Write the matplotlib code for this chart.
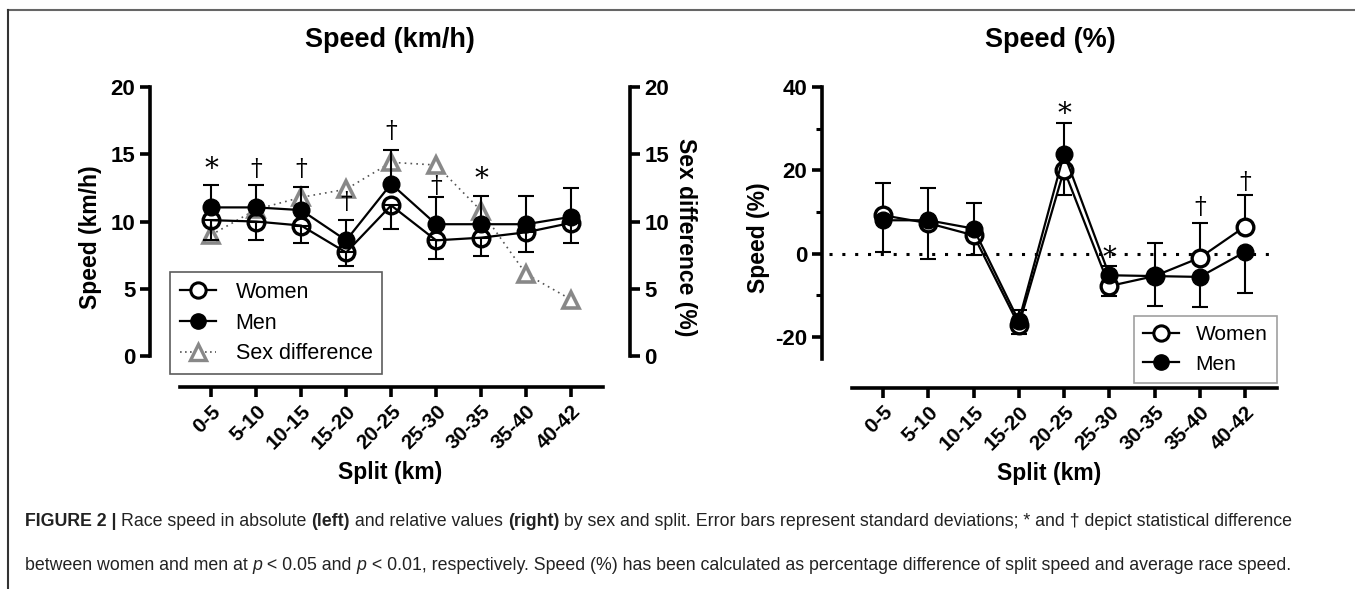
import numpy as np
import matplotlib
matplotlib.use('Agg')
from matplotlib import pyplot as plt
from matplotlib.lines import Line2D

plt.rcParams['font.family'] = ['Liberation Sans', 'DejaVu Sans']
plt.rcParams['axes.unicode_minus'] = False

splits = ['0-5', '5-10', '10-15', '15-20', '20-25', '25-30', '30-35', '35-40', '40-42']

# left panel: absolute speed (km/h)
women_kmh = [10.1, 10.0, 9.7, 7.7, 11.2, 8.6, 8.8, 9.2, 9.9]
men_kmh = [11.05, 11.05, 10.85, 8.6, 12.8, 9.8, 9.8, 9.8, 10.35]
women_kmh_sd = [1.5, 1.4, 1.3, 1.0, 1.75, 1.35, 1.35, 1.45, 1.5]   # drawn downward
men_kmh_sd = [1.7, 1.7, 1.75, 1.55, 2.55, 2.05, 2.1, 2.1, 2.15]    # drawn upward
sex_diff = [9.0, 10.9, 11.8, 12.4, 14.4, 14.2, 10.8, 6.1, 4.2]
sig_left = ['*', '†', '†', '†', '†', '†', '*', '', '']
sig_left_y = [13.9, 13.9, 13.9, 11.4, 16.7, 12.6, 13.1, 0, 0]

# right panel: relative speed (%)
women_pct = [9.2, 7.3, 4.4, -17.2, 20.1, -7.8, -5.4, -1.0, 6.5]
men_pct = [8.0, 8.0, 6.0, -16.2, 24.0, -5.2, -5.4, -5.6, 0.4]
women_pct_sd = [7.8, 8.5, 7.7, 3.6, 11.2, 4.8, 7.9, 8.4, 7.6]     # drawn upward
men_pct_sd = [7.6, 9.4, 6.4, 3.2, 10.0, 5.0, 7.2, 7.2, 9.8]       # drawn downward
sig_right = ['', '', '', '', '*', '*', '', '†', '†']
sig_right_y = [0, 0, 0, 0, 33.5, -1.2, 0, 11.0, 17.0]

x = np.arange(len(splits))
lw = 1.6
ms = 12
mew = 2.4

fig = plt.figure(figsize=(13.55, 5.89), dpi=100)

# frame lines (top and left) like the journal figure box
fig.add_artist(Line2D([8/1355, 1.0], [1-9.5/589, 1-9.5/589], color='#666666', lw=1.5))
fig.add_artist(Line2D([8/1355, 8/1355], [0, 1-9.5/589], color='#333333', lw=1.5))


def style_axis(ax, ybounds, xbounds):
    for s in ['top', 'right']:
        ax.spines[s].set_visible(False)
    ax.spines['left'].set_linewidth(2.6)
    ax.spines['bottom'].set_linewidth(2.6)
    ax.spines['left'].set_bounds(*ybounds)
    ax.spines['bottom'].set_bounds(*xbounds)
    ax.tick_params(axis='both', which='major', width=2.6, length=7, labelsize=16)
    ax.set_xticks(x)
    ax.set_xticklabels(splits, rotation=45, ha='right', rotation_mode='anchor',
                       fontweight='bold', fontsize=15)
    for t in ax.get_yticklabels():
        t.set_fontweight('bold')


# ---------------- left panel ----------------
ax1 = fig.add_axes([150/1355, 202/589, 480/1355, 300/589])
ax1.set_xlim(-1.36, 9.31)
ax1.set_ylim(-2.3, 20)
ax2 = ax1.twinx()
ax2.set_ylim(-2.3, 20)
ax2.set_zorder(0)
ax1.set_zorder(1)
ax1.patch.set_visible(False)

ax2.plot(x, sex_diff, ls=(0, (1, 2.5)), color='#555555', lw=1.2, marker='^',
         ms=12, mfc='white', mec='#888888', mew=2.6, zorder=3)

ax1.errorbar(x, men_kmh, yerr=[np.zeros(9), men_kmh_sd], fmt='none', ecolor='black',
             elinewidth=1.5, capsize=6, capthick=1.5, zorder=2)
ax1.errorbar(x, women_kmh, yerr=[women_kmh_sd, np.zeros(9)], fmt='none', ecolor='black',
             elinewidth=1.5, capsize=6, capthick=1.5, zorder=2)
ax1.plot(x, women_kmh, color='black', lw=lw, marker='o', ms=ms, mfc='none', mec='black', mew=mew, zorder=4)
ax1.plot(x, men_kmh, color='black', lw=lw, marker='o', ms=ms, mfc='black', mec='black', zorder=4)

for i, s in enumerate(sig_left):
    if s:
        ax1.text(i, sig_left_y[i], s, ha='center', va='center', fontsize=20 if s == '*' else 17,
                 family='DejaVu Serif', zorder=5)

style_axis(ax1, (0, 20), (-0.7, 8.7))
ax1.set_yticks([0, 5, 10, 15, 20])
for t in ax1.get_yticklabels():
    t.set_fontweight('bold')
for s in ['top', 'left', 'bottom']:
    ax2.spines[s].set_visible(False)
ax2.spines['right'].set_linewidth(2.6)
ax2.spines['right'].set_bounds(0, 20)
ax2.set_yticks([0, 5, 10, 15, 20])
ax2.tick_params(axis='y', width=2.6, length=7, labelsize=16)
for t in ax2.get_yticklabels():
    t.set_fontweight('bold')

ax1.set_ylabel('Speed (km/h)', fontsize=16.5, fontweight='bold', labelpad=6)
ax2.set_ylabel('Sex difference (%)', fontsize=16.5, fontweight='bold', rotation=-90, labelpad=20)
ax1.set_xlabel('Split (km)', fontsize=16.5, fontweight='bold', labelpad=6)
fig.text(390/1355, 1-40/589, 'Speed (km/h)', ha='center', va='center', fontsize=19.5, fontweight='bold')

h_w = Line2D([], [], color='black', lw=lw, marker='o', ms=11, mfc='white', mec='black', mew=2.2)
h_m = Line2D([], [], color='black', lw=lw, marker='o', ms=11, mfc='black', mec='black')
h_s = Line2D([], [], color='#555555', lw=1.2, ls=(0, (1, 2)), marker='^', ms=11, mfc='white', mec='#888888', mew=2.4)
leg1 = ax1.legend([h_w, h_m, h_s], ['Women', 'Men', 'Sex difference'], loc='lower left',
                  bbox_to_anchor=(20/480, 13/300), borderaxespad=0, fontsize=15.5,
                  frameon=True, fancybox=False, edgecolor='#333333', handlelength=1.7,
                  handletextpad=0.9, labelspacing=0.45, borderpad=0.45)
leg1.get_frame().set_linewidth(1.2)
leg1.set_zorder(6)

# ---------------- right panel ----------------
ax3 = fig.add_axes([822/1355, 201.3/589, 454.7/1355, 300.7/589])
ax3.set_xlim(-1.35, 8.7)
ax3.set_ylim(-32.2, 40)
ax3.plot([-1.2, 8.7], [0, 0], ls=(0, (1, 3.2)), color='black', lw=2.2, zorder=1)

ax3.errorbar(x, women_pct, yerr=[np.zeros(9), women_pct_sd], fmt='none', ecolor='black',
             elinewidth=1.5, capsize=6, capthick=1.5, zorder=2)
ax3.errorbar(x, men_pct, yerr=[men_pct_sd, np.zeros(9)], fmt='none', ecolor='black',
             elinewidth=1.5, capsize=6, capthick=1.5, zorder=2)
ax3.plot(x, women_pct, color='black', lw=lw, marker='o', ms=ms, mfc='white', mec='black', mew=mew, zorder=4)
ax3.plot(x, men_pct, color='black', lw=lw, marker='o', ms=ms, mfc='black', mec='black', zorder=5)

for i, s in enumerate(sig_right):
    if s:
        ax3.text(i, sig_right_y[i], s, ha='center', va='center', fontsize=20 if s == '*' else 17,
                 family='DejaVu Serif', zorder=6)

style_axis(ax3, (-25.2, 40), (-0.69, 8.7))
ax3.set_yticks([-20, 0, 20, 40])
ax3.set_yticks([-10, 10, 30], minor=True)
ax3.tick_params(axis='y', which='minor', width=2.2, length=4)
for t in ax3.get_yticklabels():
    t.set_fontweight('bold')
ax3.set_ylabel('Speed (%)', fontsize=16.5, fontweight='bold', labelpad=4)
ax3.set_xlabel('Split (km)', fontsize=16.5, fontweight='bold', labelpad=6)
fig.text(1050/1355, 1-40/589, 'Speed (%)', ha='center', va='center', fontsize=19.5, fontweight='bold')

leg2 = ax3.legend([h_w, h_m], ['Women', 'Men'], loc='lower right', bbox_to_anchor=(1.0, 4.7/300.7),
                  borderaxespad=0, fontsize=15, frameon=True, fancybox=False, edgecolor='#888888',
                  handlelength=1.7, handletextpad=0.8, labelspacing=0.5, borderpad=0.45)
leg2.get_frame().set_linewidth(1.2)
leg2.set_zorder(7)

# ---------------- caption ----------------
cap_font = ['Liberation Sans Narrow', 'Liberation Sans', 'DejaVu Sans']
line1 = [('FIGURE 2 | ', 'bold', 'normal'), ('Race speed in absolute ', 'normal', 'normal'),
         ('(left)', 'bold', 'normal'), (' and relative values ', 'normal', 'normal'),
         ('(right)', 'bold', 'normal'),
         (' by sex and split. Error bars represent standard deviations; * and \u2020 depict statistical difference',
          'normal', 'normal')]
line2 = [('between women and men at ', 'normal', 'normal'), ('p', 'normal', 'italic'),
         (' < 0.05 and ', 'normal', 'normal'), ('p', 'normal', 'italic'),
         (' < 0.01, respectively. Speed (%) has been calculated as percentage difference of split speed and average race speed.',
          'normal', 'normal')]

fig.canvas.draw()
renderer = fig.canvas.get_renderer()
for pieces, ypix in [(line1, 522), (line2, 565)]:
    xpix = 25
    for txt, wt, st in pieces:
        t = fig.text(xpix/1355, 1-ypix/589, txt, fontsize=12.8, fontweight=wt, fontstyle=st,
                     family=cap_font, va='center', ha='left', color='#222222')
        bb = t.get_window_extent(renderer)
        xpix += bb.width

fig.savefig('out.png', dpi=100)
